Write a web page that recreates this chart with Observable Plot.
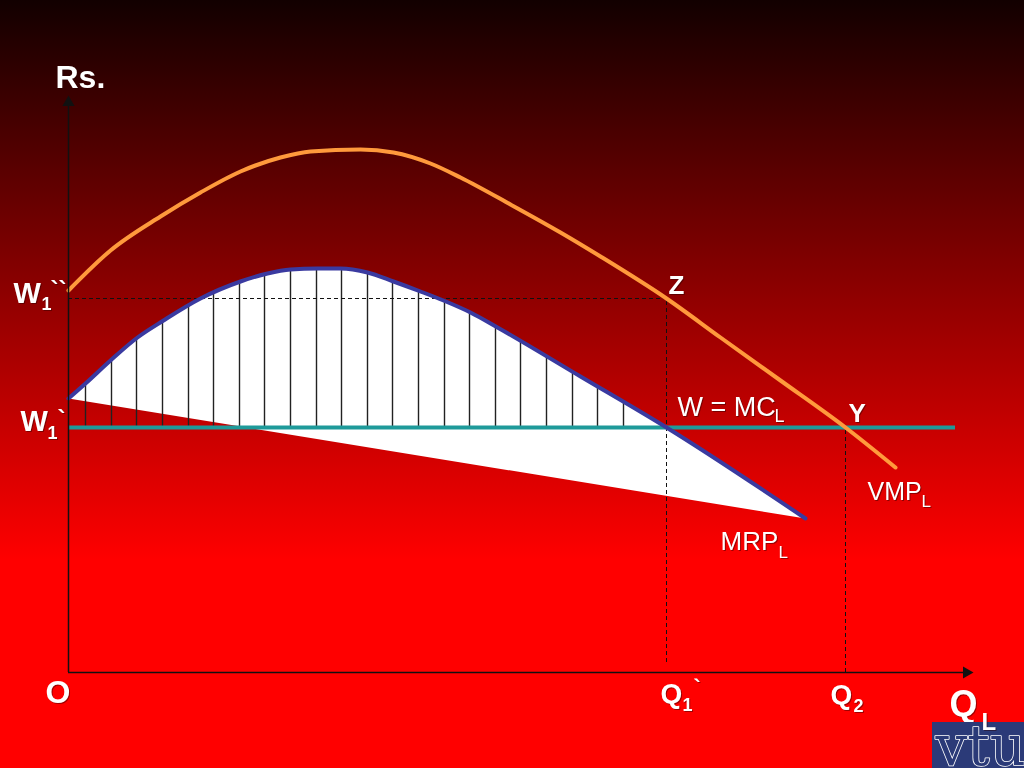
<!DOCTYPE html>
<html>
<head>
<meta charset="utf-8">
<script src="https://cdn.jsdelivr.net/npm/d3@7"></script>
<script src="https://cdn.jsdelivr.net/npm/@observablehq/plot@0.6"></script>
<style>
  html, body { margin: 0; padding: 0; width: 1024px; height: 768px; overflow: hidden; }
  body { background: linear-gradient(to bottom, #120000 0px, #ff0000 560px, #ff0000 768px); }
  #chart svg { display: block; }
  #chart svg text.lbl { filter: drop-shadow(1.5px 1.5px 0 rgba(40,0,0,0.45)); }
</style>
</head>
<body>
<div id="chart"></div>
<script>
// ---- Data (Q = labour quantity, Rs = value) ----
const vmpQ  = [0, 42, 92, 132, 172, 212, 242, 292, 325, 362, 392, 442, 492, 532, 598, 652, 712, 777, 827];
const vmpRs = [382, 422, 456, 480, 501, 515, 521, 523, 520, 509, 495, 468, 440, 416, 374, 335, 292, 245, 205];

const mrpQ  = [0, 17, 42, 69, 95, 132, 172, 199, 222, 249, 272, 299, 325, 352, 375, 402, 429, 512, 598, 737];
const mrpRs = [274, 289, 312, 335, 352, 374, 391, 399, 403, 404, 404, 400, 391, 381, 372, 360, 345, 296, 245, 154];

const hatchQ   = [17, 43, 68, 94, 120, 145, 171, 196, 222, 248, 273, 299, 324, 350, 376, 401, 427, 452, 478, 504, 529, 555];
const hatchTop = [289, 313, 335, 352, 368, 380, 390, 398, 403, 404, 404, 400, 391, 381, 371, 360, 346, 331, 316, 301, 286, 271];

const wageLow  = 245;   // W1`  (W = MC_L)
const wageHigh = 374;   // W1``
const q1 = 598;         // Q1`
const q2 = 777;         // Q2
const qMax = 887;       // end of wage line
const xAxisEnd = 898;
const yAxisEnd = 570;

const vmp = vmpQ.map((q, i) => ({q, rs: vmpRs[i]}));
const mrp = mrpQ.map((q, i) => ({q, rs: mrpRs[i]}));
const hatch = hatchQ.map((q, i) => ({q, top: hatchTop[i]}));

// label pieces: text, Q position of left edge, Rs position of cap centre, size, weight
const labels = [
  {t: "Rs.", q: -13, rs: 595, s: 32, w: "bold"},
  {t: "W",   q: -55, rs: 379, s: 29, w: "bold"},
  {t: "1",   q: -27, rs: 368, s: 18, w: "bold"},
  {t: "``",  q: -18, rs: 382, s: 24, w: "bold"},
  {t: "W",   q: -48, rs: 251, s: 29, w: "bold"},
  {t: "1",   q: -21, rs: 239, s: 18, w: "bold"},
  {t: "`",   q: -11, rs: 253, s: 24, w: "bold"},
  {t: "Z",   q: 600, rs: 387, s: 26, w: "bold"},
  {t: "Y",   q: 780, rs: 259, s: 26, w: "bold"},
  {t: "W = MC", q: 609, rs: 265, s: 27, w: "normal"},
  {t: "L",   q: 706, rs: 256, s: 18, w: "normal"},
  {t: "VMP", q: 799, rs: 181, s: 25, w: "normal"},
  {t: "L",   q: 853, rs: 171, s: 17, w: "normal"},
  {t: "MRP", q: 652, rs: 131, s: 26, w: "normal"},
  {t: "L",   q: 710, rs: 120, s: 17, w: "normal"},
  {t: "O",   q: -23, rs: -20, s: 32, w: "bold"},
  {t: "Q",   q: 592, rs: -22, s: 28, w: "bold"},
  {t: "1",   q: 614, rs: -33, s: 18, w: "bold"},
  {t: "`",   q: 625, rs: -15, s: 22, w: "bold"},
  {t: "Q",   q: 762, rs: -23, s: 28, w: "bold"},
  {t: "2",   q: 785, rs: -34, s: 18, w: "bold"},
  {t: "Q",   q: 881, rs: -32, s: 36, w: "bold"}
];
const labelQL = [{t: "L", q: 913, rs: -50, s: 24, w: "bold"}];

const FONT = "'Liberation Sans', Arial, Helvetica, sans-serif";

function textMarks(data) {
  return data.map(d => Plot.text([d], {x: "q", y: "rs", text: "t", textAnchor: "start", lineAnchor: "middle",
    fontSize: d.s, fontWeight: d.w, fontFamily: FONT, fill: "white", className: "lblmark"}));
}

const plot = Plot.plot({
  width: 1024,
  height: 768,
  marginLeft: 68,
  marginRight: 56,
  marginTop: 72,
  marginBottom: 96,
  x: {domain: [0, 900], axis: null},
  y: {domain: [0, 600], axis: null},
  style: {background: "transparent", overflow: "visible", fontFamily: FONT},
  marks: [
    // white region between MRP curve and its chord
    Plot.line(mrp, {x: "q", y: "rs", fill: "white", stroke: "none", curve: "monotone-x"}),
    // hatching
    Plot.ruleX(hatch, {x: "q", y1: wageLow, y2: "top", stroke: "#222", strokeWidth: 1.4}),
    // dashed guides
    Plot.ruleY([wageHigh], {x1: 0, x2: q1, stroke: "#111", strokeWidth: 1, strokeDasharray: "4,3"}),
    Plot.ruleX([q1], {y1: 10, y2: wageHigh, stroke: "#111", strokeWidth: 1, strokeDasharray: "4,3"}),
    Plot.ruleX([q2], {y1: 0, y2: wageLow, stroke: "#111", strokeWidth: 1, strokeDasharray: "4,3"}),
    // wage line
    Plot.ruleY([wageLow], {x1: 0, x2: qMax, stroke: "#1e9a9a", strokeWidth: 4}),
    // MRP curve
    Plot.line(mrp, {x: "q", y: "rs", stroke: "#3a3aa0", strokeWidth: 4, curve: "monotone-x"}),
    // VMP curve
    Plot.line(vmp, {x: "q", y: "rs", stroke: "#ff9a3c", strokeWidth: 4, curve: "monotone-x"}),
    // axes
    Plot.ruleX([0], {y1: 0, y2: yAxisEnd, stroke: "#111", strokeWidth: 1.5}),
    Plot.ruleY([0], {x1: 0, x2: xAxisEnd, stroke: "#111", strokeWidth: 1.5}),
    Plot.dot([{q: 0, rs: yAxisEnd}], {x: "q", y: "rs", symbol: "triangle", r: 4.5, fill: "#111", stroke: "none"}),
    Plot.dot([{q: xAxisEnd, rs: 0}], {x: "q", y: "rs", symbol: "triangle", r: 4.5, fill: "#111", stroke: "none", rotate: 90}),
    // labels
    ...textMarks(labels),
    // logo
    Plot.rect([{x1: 864, x2: 960, y1: -96, y2: -50}], {x1: "x1", x2: "x2", y1: "y1", y2: "y2", fill: "#2b3a78"}),
    Plot.text([{q: 867, rs: -92, t: "vtu"}], {x: "q", y: "rs", text: "t", textAnchor: "start", lineAnchor: "bottom",
      fontSize: 56, fontFamily: "'DejaVu Serif', 'Liberation Serif', serif", fill: "#2b3a78", stroke: "white", strokeWidth: 1.6}),
    ...textMarks(labelQL)
  ]
});

d3.select(plot).selectAll("g.lblmark text").classed("lbl", true);
document.getElementById("chart").appendChild(plot);
</script>
</body>
</html>
